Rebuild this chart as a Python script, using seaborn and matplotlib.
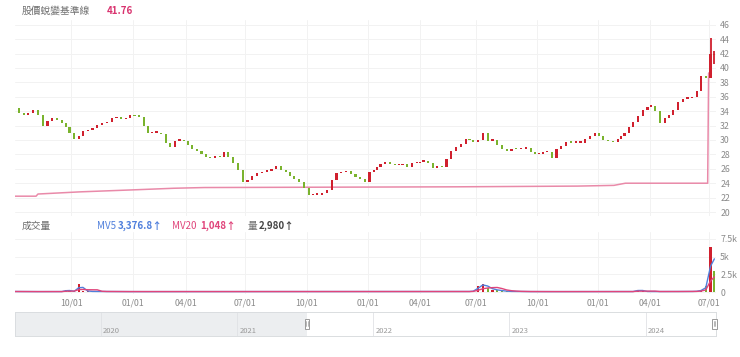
import numpy as np
import pandas as pd
import matplotlib
matplotlib.use("Agg")
import matplotlib.pyplot as plt
import matplotlib.dates as mdates
import matplotlib.transforms as mtransforms
from matplotlib.patches import Rectangle
import seaborn as sns

# weekly closes, one list per year
close_2021 = [34.4, 33.8, 33.5, 33.7, 34.1, 33.5, 32.0, 32.6, 33.1, 32.8, 32.3, 31.8,
              31.0, 30.1, 30.6, 31.2, 31.4, 31.6, 32.1, 32.3, 32.5, 33.0, 33.2, 32.9, 33.0, 33.5]
close_2022 = [33.3, 33.2, 32.0, 30.9, 31.0, 31.0, 30.8, 29.6, 29.0, 29.9, 30.0, 29.8,
              29.3, 28.8, 28.5, 28.1, 27.7, 27.5, 27.8, 27.6, 28.3, 27.6, 26.8, 25.8, 24.1,
              24.5, 25.0, 25.4, 25.6, 25.7, 26.0, 26.4, 25.9, 25.5, 25.0, 24.6, 24.2, 23.4,
              22.3, 22.4, 22.4, 22.7, 23.0, 24.4, 25.4, 25.5, 25.7, 25.3, 24.8, 24.6, 24.1]
close_2023 = [25.5, 25.9, 26.3, 26.6, 26.9, 26.7, 26.5, 26.5, 26.7, 26.2, 26.8, 26.8,
              27.0, 27.1, 26.8, 26.1, 26.4, 26.2, 27.4, 28.5, 29.0, 29.4, 30.2, 30.0, 29.7,
              30.0, 31.0, 29.9, 30.0, 29.3, 28.7, 28.5, 28.8, 28.7, 28.8, 28.9, 28.4, 28.0,
              28.0, 28.3, 28.4, 27.5, 28.7, 29.2, 29.7, 29.6, 29.6, 29.6, 30.2, 30.5, 31.0]
close_2024 = [30.6, 30.0, 29.8, 29.7, 30.1, 30.6, 31.0, 31.8, 32.5, 33.3, 34.1, 34.6,
              34.7, 34.0, 32.3, 33.1, 33.5, 34.2, 35.3, 35.7, 35.8, 35.9, 36.8, 38.9, 38.6,
              41.9, 41.76]
first_open = 34.2
last_high = [44.2, 42.4]
last_low = [38.6, 40.6]

# weekly volume (lots)
vol_2021 = [70, 60, 60, 55, 55, 60, 60, 55, 60, 60, 65, 300,
            120, 90, 1100, 200, 90, 80, 70, 70, 65, 60, 60, 60, 55, 60]
vol_2022 = [60, 55, 60, 50, 55, 60, 55, 60, 55, 60, 50, 55,
            60, 55, 60, 55, 50, 60, 55, 60, 65, 55, 60, 55, 60,
            55, 60, 65, 55, 60, 55, 50, 55, 60, 55, 60, 65, 60,
            55, 60, 65, 70, 60, 55, 60, 55, 60, 55, 60, 55, 60]
vol_2023 = [60, 55, 60, 55, 60, 55, 60, 55, 60, 55, 60, 55,
            60, 55, 60, 55, 60, 55, 60, 65, 60, 70, 65, 80, 150,
            900, 1100, 600, 350, 250, 150, 90, 80, 70, 65, 60, 60, 55,
            60, 55, 60, 55, 60, 55, 60, 55, 60, 55, 60, 55, 60]
vol_2024 = [60, 55, 60, 55, 60, 55, 60, 65, 70, 350, 80, 70,
            65, 60, 70, 60, 65, 70, 80, 75, 70, 80, 120, 300, 900,
            6400, 2980]

# 股價蛻變基準線 breakpoints
base_dates = ['2021-07-05', '2021-08-09', '2021-08-11', '2021-10-15', '2022-01-10', '2022-03-15',
              '2022-05-02', '2023-06-01', '2023-12-01', '2024-01-25', '2024-02-22', '2024-06-28',
              '2024-07-01']
base_vals = [22.2, 22.2, 22.5, 22.8, 23.1, 23.3, 23.4, 23.5, 23.6, 23.7, 24.0, 24.0, 39.3]

last_price = '41.76'
mv5_txt = '3,376.8↑'
mv20_txt = '1,048↑'
vol_txt = '2,980↑'
years = [2020, 2021, 2022, 2023, 2024]

# market closed days
holiday_ranges = [
    ('2021-09-20', '2021-09-21'), ('2021-10-11', '2021-10-11'), ('2021-12-31', '2021-12-31'),
    ('2022-01-27', '2022-02-04'), ('2022-02-28', '2022-02-28'), ('2022-04-04', '2022-04-05'),
    ('2022-05-02', '2022-05-02'), ('2022-06-03', '2022-06-03'), ('2022-09-09', '2022-09-09'),
    ('2022-10-10', '2022-10-10'), ('2023-01-02', '2023-01-02'), ('2023-01-18', '2023-01-27'),
    ('2023-02-27', '2023-02-28'), ('2023-04-03', '2023-04-05'), ('2023-05-01', '2023-05-01'),
    ('2023-06-22', '2023-06-23'), ('2023-09-29', '2023-09-29'), ('2023-10-09', '2023-10-10'),
    ('2024-01-01', '2024-01-01'), ('2024-02-05', '2024-02-14'), ('2024-02-28', '2024-02-28'),
    ('2024-04-04', '2024-04-05'), ('2024-05-01', '2024-05-01'), ('2024-06-10', '2024-06-10'),
]

RED = '#d0202e'
GREEN = '#7ab32e'
PINK = '#e98aa9'
BLUE = '#4f7fdc'
MAGENTA = '#e0457b'
GRID = '#f2f2f2'
TICK = '#8a8a8a'

sns.set_theme(style='white')
plt.rcParams['font.family'] = ['Noto Sans CJK TC', 'DejaVu Sans']

# trading-day axis (no gaps)
days = pd.bdate_range('2021-07-05', '2024-07-10')
closed = pd.DatetimeIndex([])
for a, b in holiday_ranges:
    closed = closed.union(pd.date_range(a, b))
days = days[~days.isin(closed)]
wk = pd.DataFrame({'pos': np.arange(len(days)), 'week': days.to_period('W-FRI')})
wpos = wk.groupby('week', sort=True)['pos'].mean().values

close = close_2021 + close_2022 + close_2023 + close_2024
vol = vol_2021 + vol_2022 + vol_2023 + vol_2024
n = min(len(close), len(wpos))
df = pd.DataFrame({'x': wpos[:n], 'close': close[:n], 'vol': vol[:n]})
df['open'] = [first_open] + close[:n - 1]
df['up'] = df['close'] >= df['open']
colors = np.where(df['up'], RED, GREEN)

fig = plt.figure(figsize=(7.4, 3.57), dpi=100)
W, H = 740, 357
ax = fig.add_axes([15 / W, 1 - 216 / H, 701 / W, 196 / H])
axv = fig.add_axes([15 / W, 1 - 294 / H, 701 / W, 62 / H])
axn = fig.add_axes([15 / W, 1 - 336 / H, 701 / W, 24 / H])

# price panel
body_lo = df[['open', 'close']].min(axis=1)
body_h = (df['close'] - df['open']).abs().clip(lower=0.2)
ax.bar(df['x'], body_h, bottom=body_lo, width=2.3, color=colors, linewidth=0, zorder=3)
ax.vlines(df['x'].iloc[-2:], last_low, last_high, color=RED, lw=1.3, zorder=3)

bx = np.searchsorted(days.values, pd.to_datetime(base_dates).values)
sns.lineplot(x=bx, y=base_vals, color=PINK, lw=1.1, ax=ax, zorder=2)

qstarts = pd.date_range('2021-10-01', '2024-07-01', freq='QS')
tick_pos = np.searchsorted(days.values, qstarts.values)
tick_lab = [d.strftime('%m/01') for d in qstarts]

xlim = (3.0, len(days) - 0.3)
for a in (ax, axv):
    a.set_xlim(*xlim)
    a.set_xticks(tick_pos)
    a.yaxis.tick_right()
    a.grid(True, color=GRID, lw=0.7)
    a.tick_params(length=0, labelsize=6.3, colors=TICK, pad=3)
    for s in a.spines.values():
        s.set_visible(False)

ax.set_ylim(19.45, 46.65)
ax.set_yticks(range(20, 47, 2))
ax.tick_params(axis='x', labelbottom=False)
ax.set_xlabel('')
ax.set_ylabel('')

# volume panel
axv.bar(df['x'], df['vol'], width=2.3, color=colors, linewidth=0, zorder=3)
mv5 = df['vol'].rolling(2, min_periods=1).mean()
mv20 = df['vol'].rolling(5, min_periods=1).mean()
sns.lineplot(x=df['x'], y=mv5, color=BLUE, lw=1.0, ax=axv, zorder=4)
sns.lineplot(x=df['x'], y=mv20, color=MAGENTA, lw=1.0, ax=axv, zorder=4)
axv.set_ylim(-283, 8490)
axv.set_yticks([0, 2500, 5000, 7500])
axv.set_yticklabels(['0', '2.5k', '5k', '7.5k'])
axv.set_xticklabels(tick_lab)
axv.set_xlabel('')
axv.set_ylabel('')

# navigator
n0, n1 = mdates.date2num(pd.Timestamp('2019-05-16')), mdates.date2num(pd.Timestamp('2024-07-08'))
sel0 = mdates.date2num(pd.Timestamp('2021-07-07'))
axn.set_xlim(n0, n1)
axn.set_ylim(0, 1)
axn.axvspan(n0, sel0, color='#eceef0', lw=0)
for y in years:
    xd = mdates.date2num(pd.Timestamp(f'{y}-01-01'))
    axn.axvline(xd, color='#e0e2e5', lw=0.6)
    axn.text(xd + 6, 0.22, str(y), fontsize=5.5, color='#9a9a9a', va='center')
tr = mtransforms.blended_transform_factory(axn.transData, axn.transAxes)
for hx in (sel0, n1 - 4):
    axn.add_patch(Rectangle((hx - 6.5, 0.3), 13, 0.42, transform=tr, fc='white',
                            ec='#9a9a9a', lw=0.7, zorder=5, clip_on=False))
    for dx in (-2, 2):
        axn.plot([hx + dx, hx + dx], [0.4, 0.62], transform=tr, color='#9a9a9a',
                 lw=0.5, zorder=6, clip_on=False)
axn.set_xticks([])
axn.set_yticks([])
for s in axn.spines.values():
    s.set_color('#dadde0')
    s.set_linewidth(0.7)

# header texts
fs = 7
fig.text(22 / W, 1 - 11 / H, '股價蛻變基準線', fontsize=fs, color='#6e6e6e', va='center')
fig.text(107 / W, 1 - 11 / H, last_price, fontsize=fs, color='#d9336f', va='center', weight='bold')
yv = 1 - 226 / H
fig.text(22 / W, yv, '成交量', fontsize=fs, color='#6e6e6e', va='center')
fig.text(97 / W, yv, 'MV5', fontsize=fs, color=BLUE, va='center')
fig.text(118 / W, yv, mv5_txt, fontsize=fs, color=BLUE, va='center', weight='bold')
fig.text(172 / W, yv, 'MV20', fontsize=fs, color=MAGENTA, va='center')
fig.text(200 / W, yv, mv20_txt, fontsize=fs, color=MAGENTA, va='center', weight='bold')
fig.text(248 / W, yv, '量', fontsize=fs, color='#6e6e6e', va='center')
fig.text(259 / W, yv, vol_txt, fontsize=fs, color='#444444', va='center', weight='bold')

fig.savefig('out.png', dpi=100)
